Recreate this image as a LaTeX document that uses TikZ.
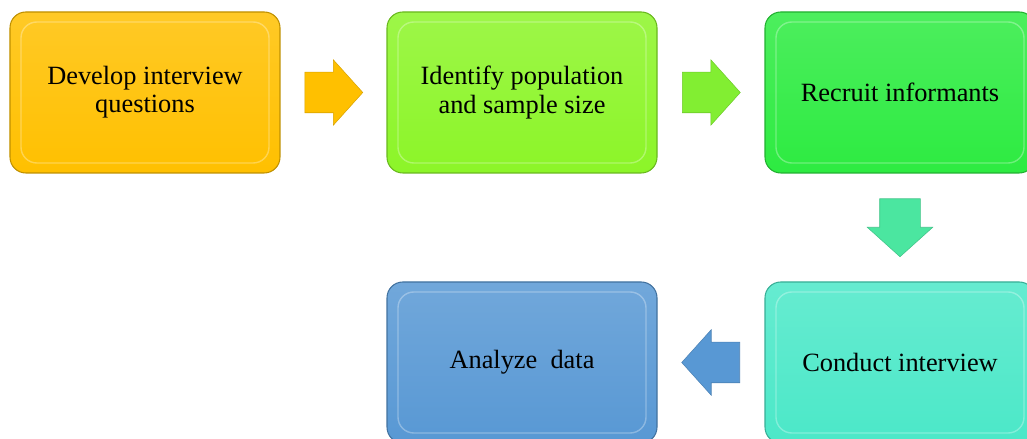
\documentclass[tikz,border=0pt]{standalone}
\usepackage{fontspec}
\setmainfont{Liberation Serif}
\definecolor{stgold}{RGB}{255,192,0}
\definecolor{stlime}{RGB}{140,245,40}
\definecolor{stgreen}{RGB}{45,235,65}
\definecolor{staqua}{RGB}{75,232,200}
\definecolor{stblue}{RGB}{88,152,212}
\definecolor{arlime}{RGB}{130,238,50}
\definecolor{araqua}{RGB}{75,230,160}
\usetikzlibrary{shapes.arrows,calc}

\begin{document}
\begin{tikzpicture}[every node/.style={font=\fontsize{15}{16}\selectfont},
  stage/.style={rounded corners=9pt, minimum width=5.4cm, minimum height=3.22cm, align=center,
    top color=#1!85!white, bottom color=#1, draw=#1!75!black, line width=0.6pt,
    path picture={\draw[white, opacity=0.3, line width=0.8pt]
      ([shift={(0.22,-0.2)}]path picture bounding box.north west) rectangle
      ([shift={(-0.22,0.2)}]path picture bounding box.south east);}},
  flow/.style={single arrow, draw=#1!85!black, fill=#1, line width=0.3pt, anchor=tail,
    inner xsep=0pt, inner ysep=0.4cm, minimum width=1.3cm, minimum height=1.16cm,
    single arrow head extend=0.25cm, single arrow tip angle=96}]
\useasboundingbox (0,0) rectangle (20.54,8.78);
\clip (0,0) rectangle (20.54,8.78);
% top row
\node[stage=stgold] (develop) at (2.9,6.93) {Develop interview\\questions};
\node[stage=stlime] (identify) at (10.44,6.93) {Identify population\\and sample size};
\node[stage=stgreen] (recruit) at (18.0,6.93) {Recruit informants};
% bottom row
\node[stage=staqua] (conduct) at (18.0,1.53) {Conduct interview};
\node[stage=stblue] (analyze) at (10.44,1.53) {Analyze~ data};
% arrows
\node[flow=stgold] (a1) at ($(develop)!0.5!(identify)+(-0.58,0)$) {};
\node[flow=arlime] (a2) at ($(identify)!0.5!(recruit)+(-0.58,0)$) {};
\node[flow=araqua, rotate=-90] (a3) at ($(recruit)!0.5!(conduct)+(0,0.58)$) {};
\node[flow=stblue, rotate=180] (a4) at ($(conduct)!0.5!(analyze)+(0.58,0)$) {};
\end{tikzpicture}
\end{document}
